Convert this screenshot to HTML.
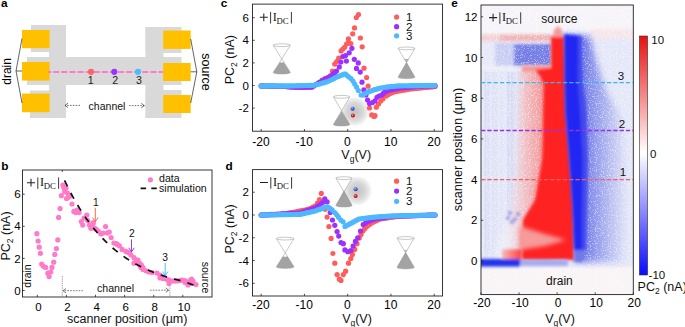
<!DOCTYPE html>
<html><head><meta charset="utf-8"><style>
html,body{margin:0;padding:0;background:#fff;width:685px;height:327px;overflow:hidden;}
svg{display:block;}
</style></head><body>
<svg width="685" height="327" viewBox="0 0 685 327">
<defs>
<radialGradient id="blobg" cx="0.5" cy="0.5" r="0.5"><stop offset="0" stop-color="#c2c2c2"/><stop offset="0.5" stop-color="#d6d6d6"/><stop offset="0.8" stop-color="#eeeeee"/><stop offset="1" stop-color="#ffffff" stop-opacity="0"/></radialGradient>
<radialGradient id="bsph" cx="0.4" cy="0.35" r="0.6"><stop offset="0" stop-color="#a8b8ff"/><stop offset="0.5" stop-color="#4a6ae0"/><stop offset="1" stop-color="#2a3aa0"/></radialGradient>
<radialGradient id="rsph" cx="0.4" cy="0.35" r="0.6"><stop offset="0" stop-color="#ffb0b0"/><stop offset="0.5" stop-color="#e82020"/><stop offset="1" stop-color="#a01010"/></radialGradient>
<linearGradient id="cbar" x1="0" y1="0" x2="0" y2="1"><stop offset="0" stop-color="#e81010"/><stop offset="0.49" stop-color="#ffffff"/><stop offset="1" stop-color="#0a0aff"/></linearGradient>
<linearGradient id="rightfade" x1="0" y1="0" x2="1" y2="0"><stop offset="0" stop-color="#b8bef4"/><stop offset="1" stop-color="#eceefa"/></linearGradient>
<linearGradient id="bfade" gradientUnits="userSpaceOnUse" x1="580" y1="0" x2="628" y2="0"><stop offset="0" stop-color="#6a74ea"/><stop offset="0.45" stop-color="#a3aaef"/><stop offset="1" stop-color="#e5e8f8"/></linearGradient>
<linearGradient id="rfade" gradientUnits="userSpaceOnUse" x1="506" y1="0" x2="542" y2="0"><stop offset="0" stop-color="#eceef9"/><stop offset="1" stop-color="#f49a9a"/></linearGradient>
<linearGradient id="finger" gradientUnits="userSpaceOnUse" x1="500" y1="0" x2="524" y2="0"><stop offset="0" stop-color="#f4c8c8"/><stop offset="1" stop-color="#ff3030"/></linearGradient>
<filter id="blur3" x="-20%" y="-20%" width="140%" height="140%"><feGaussianBlur stdDeviation="3"/></filter>
<filter id="blurs" x="-200%" y="-5%" width="500%" height="110%"><feGaussianBlur stdDeviation="0.7"/></filter>
<filter id="speck" x="0" y="0" width="100%" height="100%" filterUnits="objectBoundingBox"><feTurbulence type="fractalNoise" baseFrequency="0.85" numOctaves="1" seed="4" result="n"/><feColorMatrix in="n" type="matrix" values="0 0 0 0 1  0 0 0 0 1  0 0 0 0 1  9 0 0 0 -5.0"/></filter>
<filter id="blur2" x="-20%" y="-50%" width="140%" height="200%"><feGaussianBlur stdDeviation="2.2"/></filter>
<filter id="blur1" x="-10%" y="-10%" width="120%" height="120%"><feGaussianBlur stdDeviation="1.6"/></filter>
<pattern id="noise" width="6" height="6" patternUnits="userSpaceOnUse"><rect x="0" y="0" width="1.5" height="1.5" fill="#fff"/><rect x="3" y="3" width="1.5" height="1.5" fill="#fff"/><rect x="4.5" y="1.5" width="1.5" height="1.5" fill="#dde"/></pattern>
</defs>
<text x="1.0" y="6.8" font-size="11.8" text-anchor="start" font-weight="bold" fill="#000" font-family='"Liberation Sans", sans-serif' >a</text>
<text x="1.2" y="170" font-size="11.8" text-anchor="start" font-weight="bold" fill="#000" font-family='"Liberation Sans", sans-serif' >b</text>
<text x="220.8" y="6.6" font-size="11.8" text-anchor="start" font-weight="bold" fill="#000" font-family='"Liberation Sans", sans-serif' >c</text>
<text x="225.6" y="169.8" font-size="11.8" text-anchor="start" font-weight="bold" fill="#000" font-family='"Liberation Sans", sans-serif' >d</text>
<text x="451.2" y="7.3" font-size="11.8" text-anchor="start" font-weight="bold" fill="#000" font-family='"Liberation Sans", sans-serif' >e</text>
<rect x="31" y="25" width="35" height="27" fill="#d9d9d9" />
<rect x="27" y="57" width="39" height="28" fill="#d9d9d9" />
<rect x="30" y="90.5" width="36" height="27.5" fill="#d9d9d9" />
<rect x="49" y="25" width="17" height="93" fill="#d9d9d9" />
<rect x="66" y="57" width="80" height="28" fill="#d9d9d9" />
<rect x="145.5" y="27" width="18" height="91" fill="#d9d9d9" />
<rect x="145.5" y="27" width="36" height="26" fill="#d9d9d9" />
<rect x="145.5" y="57" width="36" height="28" fill="#d9d9d9" />
<rect x="145.5" y="90" width="36" height="28" fill="#d9d9d9" />
<rect x="22" y="30" width="27.6" height="18.2" fill="#ffc000" />
<rect x="22" y="62" width="27.6" height="18.6" fill="#ffc000" />
<rect x="22" y="93.6" width="27.6" height="18.6" fill="#ffc000" />
<rect x="163.2" y="30.5" width="27.5" height="18.4" fill="#ffc000" />
<rect x="163.2" y="63" width="27.5" height="18" fill="#ffc000" />
<rect x="163.2" y="95" width="27.5" height="18" fill="#ffc000" />
<line x1="48" y1="71.9" x2="163.2" y2="71.9" stroke="#ff7ac8" stroke-width="2" stroke-dasharray="6.1 2.0" stroke-dashoffset="2.9"/>
<circle cx="91" cy="71.8" r="3.1" fill="#ff6464"/>
<circle cx="114.3" cy="71.8" r="3.1" fill="#9933ff"/>
<circle cx="138" cy="71.8" r="3.1" fill="#4dbbff"/>
<text x="90.6" y="84.1" font-size="10.6" text-anchor="middle" font-weight="normal" fill="#222" font-family='"Liberation Sans", sans-serif' >1</text>
<text x="115.1" y="84.1" font-size="10.6" text-anchor="middle" font-weight="normal" fill="#222" font-family='"Liberation Sans", sans-serif' >2</text>
<text x="139" y="84.1" font-size="10.6" text-anchor="middle" font-weight="normal" fill="#222" font-family='"Liberation Sans", sans-serif' >3</text>
<polyline points="22,38.5 16,71 22,103" fill="none" stroke="#222" stroke-width="0.7"/>
<line x1="16" y1="71" x2="22" y2="71" stroke="#222" stroke-width="0.7"/>
<polyline points="190.7,39 196.8,71.8 190.7,103" fill="none" stroke="#222" stroke-width="0.7"/>
<line x1="190.7" y1="71.8" x2="196.8" y2="71.8" stroke="#222" stroke-width="0.7"/>
<text x="11.5" y="71.4" font-size="12" text-anchor="middle" font-weight="normal" fill="#000" font-family='"Liberation Sans", sans-serif' transform="rotate(-90 11.5 71.4)">drain</text>
<text x="201.5" y="72" font-size="12.5" text-anchor="middle" font-weight="normal" fill="#000" font-family='"Liberation Sans", sans-serif' transform="rotate(90 201.5 72)">source</text>
<text x="107" y="109.5" font-size="10.5" text-anchor="middle" font-weight="normal" fill="#111" font-family='"Liberation Sans", sans-serif' >channel</text>
<line x1="80" y1="105.4" x2="65" y2="105.4" stroke="#333" stroke-width="0.7" stroke-dasharray="1.6 1.2"/>
<polyline points="68,103.2 65,105.4 68,107.60000000000001" fill="none" stroke="#333" stroke-width="0.7"/>
<line x1="129" y1="105.6" x2="144.3" y2="105.6" stroke="#333" stroke-width="0.7" stroke-dasharray="1.6 1.2"/>
<polyline points="141.3,103.39999999999999 144.3,105.6 141.3,107.8" fill="none" stroke="#333" stroke-width="0.7"/>
<rect x="22.5" y="170" width="189.5" height="127" fill="none" stroke="#222" stroke-width="0.9"/>
<line x1="37.3" y1="297" x2="37.3" y2="294.8" stroke="#222" stroke-width="0.8"/>
<text x="38.4" y="310.5" font-size="11.5" text-anchor="middle" font-weight="normal" fill="#000" font-family='"Liberation Sans", sans-serif' >0</text>
<line x1="66.4" y1="297" x2="66.4" y2="294.8" stroke="#222" stroke-width="0.8"/>
<text x="67.5" y="310.5" font-size="11.5" text-anchor="middle" font-weight="normal" fill="#000" font-family='"Liberation Sans", sans-serif' >2</text>
<line x1="95.5" y1="297" x2="95.5" y2="294.8" stroke="#222" stroke-width="0.8"/>
<text x="96.6" y="310.5" font-size="11.5" text-anchor="middle" font-weight="normal" fill="#000" font-family='"Liberation Sans", sans-serif' >4</text>
<line x1="124.60000000000001" y1="297" x2="124.60000000000001" y2="294.8" stroke="#222" stroke-width="0.8"/>
<text x="125.7" y="310.5" font-size="11.5" text-anchor="middle" font-weight="normal" fill="#000" font-family='"Liberation Sans", sans-serif' >6</text>
<line x1="153.7" y1="297" x2="153.7" y2="294.8" stroke="#222" stroke-width="0.8"/>
<text x="154.79999999999998" y="310.5" font-size="11.5" text-anchor="middle" font-weight="normal" fill="#000" font-family='"Liberation Sans", sans-serif' >8</text>
<line x1="182.8" y1="297" x2="182.8" y2="294.8" stroke="#222" stroke-width="0.8"/>
<text x="183.9" y="310.5" font-size="11.5" text-anchor="middle" font-weight="normal" fill="#000" font-family='"Liberation Sans", sans-serif' >10</text>
<line x1="22.5" y1="290.5" x2="24.7" y2="290.5" stroke="#222" stroke-width="0.8"/>
<text x="20.6" y="294.6" font-size="11.5" text-anchor="end" font-weight="normal" fill="#000" font-family='"Liberation Sans", sans-serif' >0</text>
<line x1="22.5" y1="258.4" x2="24.7" y2="258.4" stroke="#222" stroke-width="0.8"/>
<text x="20.6" y="262.5" font-size="11.5" text-anchor="end" font-weight="normal" fill="#000" font-family='"Liberation Sans", sans-serif' >2</text>
<line x1="22.5" y1="226.3" x2="24.7" y2="226.3" stroke="#222" stroke-width="0.8"/>
<text x="20.6" y="230.4" font-size="11.5" text-anchor="end" font-weight="normal" fill="#000" font-family='"Liberation Sans", sans-serif' >4</text>
<line x1="22.5" y1="194.2" x2="24.7" y2="194.2" stroke="#222" stroke-width="0.8"/>
<text x="20.6" y="198.29999999999998" font-size="11.5" text-anchor="end" font-weight="normal" fill="#000" font-family='"Liberation Sans", sans-serif' >6</text>
<line x1="62.3" y1="170" x2="62.3" y2="172" stroke="#222" stroke-width="0.8"/>
<text transform="translate(9.8 236) rotate(-90)" text-anchor="middle" font-size="12.5" font-family='"Liberation Sans", sans-serif' fill="#111">PC<tspan font-size="8.50" dy="3">2</tspan><tspan dy="-3"> (nA)</tspan></text>
<text x="127.2" y="322.5" font-size="12.5" text-anchor="middle" font-weight="normal" fill="#111" font-family='"Liberation Sans", sans-serif' >scanner position (µm)</text>
<path d="M27.00,182.70 H35.00 M31.00,178.80 V186.60" stroke="#222" stroke-width="1.05"/>
<path d="M37.80,177.40 V188.90 M58.60,177.40 V188.90" stroke="#222" stroke-width="0.9"/>
<text x="40.00" y="186.30" font-size="12.2" font-family='"Liberation Serif", serif' fill="#111" >I</text>
<text x="43.70" y="189.00" font-size="8.7" font-family='"Liberation Serif", serif' fill="#111" >DC</text>
<line x1="62.3" y1="276" x2="62.3" y2="297" stroke="#555" stroke-width="0.6" stroke-dasharray="1.3 1"/>
<line x1="169.9" y1="283" x2="169.9" y2="297" stroke="#555" stroke-width="0.6" stroke-dasharray="1.3 1"/>
<line x1="83" y1="290.7" x2="63" y2="290.7" stroke="#444" stroke-width="0.7" stroke-dasharray="1.6 1.2"/>
<polyline points="66,288.5 63,290.7 66,292.9" fill="none" stroke="#444" stroke-width="0.7"/>
<line x1="150" y1="290.2" x2="168.7" y2="290.2" stroke="#444" stroke-width="0.7" stroke-dasharray="1.6 1.2"/>
<polyline points="165.7,288.0 168.7,290.2 165.7,292.4" fill="none" stroke="#444" stroke-width="0.7"/>
<text x="115.5" y="292.2" font-size="10.6" text-anchor="middle" font-weight="normal" fill="#111" font-family='"Liberation Sans", sans-serif' >channel</text>
<text x="30.6" y="276" font-size="10.5" text-anchor="middle" font-weight="normal" fill="#111" font-family='"Liberation Sans", sans-serif' transform="rotate(-90 30.6 276)">drain</text>
<text x="202" y="277.5" font-size="10.5" text-anchor="middle" font-weight="normal" fill="#111" font-family='"Liberation Sans", sans-serif' transform="rotate(90 202 277.5)">source</text>
<circle cx="36.9" cy="233.7" r="2.6" fill="#ff7ac8"/>
<circle cx="38.1" cy="241" r="2.6" fill="#ff7ac8"/>
<circle cx="39.2" cy="247.2" r="2.6" fill="#ff7ac8"/>
<circle cx="40.4" cy="253.4" r="2.6" fill="#ff7ac8"/>
<circle cx="41.7" cy="264" r="2.6" fill="#ff7ac8"/>
<circle cx="43.3" cy="266.3" r="2.6" fill="#ff7ac8"/>
<circle cx="45.6" cy="267.4" r="2.6" fill="#ff7ac8"/>
<circle cx="47.9" cy="273.2" r="2.6" fill="#ff7ac8"/>
<circle cx="49.1" cy="276.6" r="2.6" fill="#ff7ac8"/>
<circle cx="50.7" cy="272" r="2.6" fill="#ff7ac8"/>
<circle cx="52" cy="267.4" r="2.6" fill="#ff7ac8"/>
<circle cx="53.7" cy="262.2" r="2.6" fill="#ff7ac8"/>
<circle cx="54.8" cy="254.4" r="2.6" fill="#ff7ac8"/>
<circle cx="56.4" cy="248.6" r="2.6" fill="#ff7ac8"/>
<circle cx="57.8" cy="239.9" r="2.6" fill="#ff7ac8"/>
<circle cx="58.6" cy="217.4" r="2.6" fill="#ff7ac8"/>
<circle cx="60.1" cy="208.6" r="2.6" fill="#ff7ac8"/>
<circle cx="61.4" cy="195.7" r="2.6" fill="#ff7ac8"/>
<circle cx="62.9" cy="185.1" r="2.6" fill="#ff7ac8"/>
<circle cx="63.8" cy="187.5" r="2.6" fill="#ff7ac8"/>
<circle cx="64.7" cy="191.7" r="2.6" fill="#ff7ac8"/>
<circle cx="67.5" cy="193" r="2.6" fill="#ff7ac8"/>
<circle cx="66.5" cy="198.5" r="2.6" fill="#ff7ac8"/>
<circle cx="68.4" cy="197.2" r="2.6" fill="#ff7ac8"/>
<circle cx="72" cy="204" r="2.6" fill="#ff7ac8"/>
<circle cx="73.9" cy="211.4" r="2.6" fill="#ff7ac8"/>
<circle cx="75.7" cy="212.6" r="2.6" fill="#ff7ac8"/>
<circle cx="79" cy="212.6" r="2.6" fill="#ff7ac8"/>
<circle cx="81.3" cy="221.5" r="2.6" fill="#ff7ac8"/>
<circle cx="82.7" cy="225.1" r="2.6" fill="#ff7ac8"/>
<circle cx="86.8" cy="215" r="2.6" fill="#ff7ac8"/>
<circle cx="87.7" cy="220.5" r="2.6" fill="#ff7ac8"/>
<circle cx="89.5" cy="225.1" r="2.6" fill="#ff7ac8"/>
<circle cx="93.2" cy="223.3" r="2.6" fill="#ff7ac8"/>
<circle cx="94.1" cy="227.9" r="2.6" fill="#ff7ac8"/>
<circle cx="92.8" cy="222.8" r="2.6" fill="#ff7ac8"/>
<circle cx="90.9" cy="228.3" r="2.6" fill="#ff7ac8"/>
<circle cx="98.3" cy="231.1" r="2.6" fill="#ff7ac8"/>
<circle cx="101" cy="233.9" r="2.6" fill="#ff7ac8"/>
<circle cx="105.6" cy="226.5" r="2.6" fill="#ff7ac8"/>
<circle cx="107.4" cy="232.9" r="2.6" fill="#ff7ac8"/>
<circle cx="109.3" cy="232" r="2.6" fill="#ff7ac8"/>
<circle cx="111.1" cy="237.5" r="2.6" fill="#ff7ac8"/>
<circle cx="113.9" cy="243" r="2.6" fill="#ff7ac8"/>
<circle cx="116.6" cy="243.9" r="2.6" fill="#ff7ac8"/>
<circle cx="119.4" cy="245.8" r="2.6" fill="#ff7ac8"/>
<circle cx="122.1" cy="249.4" r="2.6" fill="#ff7ac8"/>
<circle cx="125.8" cy="251.3" r="2.6" fill="#ff7ac8"/>
<circle cx="129.4" cy="253.1" r="2.6" fill="#ff7ac8"/>
<circle cx="134" cy="257.7" r="2.6" fill="#ff7ac8"/>
<circle cx="134" cy="263.2" r="2.6" fill="#ff7ac8"/>
<circle cx="137.7" cy="262.3" r="2.6" fill="#ff7ac8"/>
<circle cx="141.4" cy="265" r="2.6" fill="#ff7ac8"/>
<circle cx="136" cy="260.0" r="2.6" fill="#ff7ac8"/>
<circle cx="140" cy="263.6" r="2.6" fill="#ff7ac8"/>
<circle cx="140" cy="265.4" r="2.6" fill="#ff7ac8"/>
<circle cx="141" cy="266.2" r="2.6" fill="#ff7ac8"/>
<circle cx="141" cy="267.4" r="2.6" fill="#ff7ac8"/>
<circle cx="143" cy="267.6" r="2.6" fill="#ff7ac8"/>
<circle cx="143" cy="269.4" r="2.6" fill="#ff7ac8"/>
<circle cx="146" cy="270.8" r="2.6" fill="#ff7ac8"/>
<circle cx="149" cy="272.0" r="2.6" fill="#ff7ac8"/>
<circle cx="152" cy="272.5" r="2.6" fill="#ff7ac8"/>
<circle cx="157" cy="273.0" r="2.6" fill="#ff7ac8"/>
<circle cx="160" cy="275.1" r="2.6" fill="#ff7ac8"/>
<circle cx="160" cy="277.9" r="2.6" fill="#ff7ac8"/>
<circle cx="163" cy="277.1" r="2.6" fill="#ff7ac8"/>
<circle cx="163" cy="278.4" r="2.6" fill="#ff7ac8"/>
<circle cx="165" cy="278.2" r="2.6" fill="#ff7ac8"/>
<circle cx="167" cy="279.5" r="2.6" fill="#ff7ac8"/>
<circle cx="169" cy="280.1" r="2.6" fill="#ff7ac8"/>
<circle cx="169" cy="283.4" r="2.6" fill="#ff7ac8"/>
<circle cx="172" cy="281.0" r="2.6" fill="#ff7ac8"/>
<circle cx="174.5" cy="281.0" r="2.6" fill="#ff7ac8"/>
<circle cx="177" cy="281.0" r="2.6" fill="#ff7ac8"/>
<circle cx="180" cy="280.5" r="2.6" fill="#ff7ac8"/>
<circle cx="182" cy="280.2" r="2.6" fill="#ff7ac8"/>
<circle cx="185" cy="280.6" r="2.6" fill="#ff7ac8"/>
<circle cx="185" cy="282.4" r="2.6" fill="#ff7ac8"/>
<circle cx="188" cy="282.6" r="2.6" fill="#ff7ac8"/>
<circle cx="188" cy="284.9" r="2.6" fill="#ff7ac8"/>
<circle cx="190" cy="280.6" r="2.6" fill="#ff7ac8"/>
<circle cx="190" cy="283.4" r="2.6" fill="#ff7ac8"/>
<circle cx="191.5" cy="279.1" r="2.6" fill="#ff7ac8"/>
<circle cx="191.5" cy="282.4" r="2.6" fill="#ff7ac8"/>
<circle cx="193" cy="281.0" r="2.6" fill="#ff7ac8"/>
<circle cx="196" cy="284.5" r="2.6" fill="#ff7ac8"/>
<circle cx="66" cy="188" r="2.6" fill="#ff7ac8"/>
<circle cx="70" cy="196" r="2.6" fill="#ff7ac8"/>
<circle cx="77" cy="210" r="2.6" fill="#ff7ac8"/>
<circle cx="84" cy="218" r="2.6" fill="#ff7ac8"/>
<circle cx="96" cy="229" r="2.6" fill="#ff7ac8"/>
<circle cx="103" cy="233" r="2.6" fill="#ff7ac8"/>
<circle cx="117" cy="244" r="2.6" fill="#ff7ac8"/>
<circle cx="127" cy="252" r="2.6" fill="#ff7ac8"/>
<circle cx="131" cy="255" r="2.6" fill="#ff7ac8"/>
<circle cx="138" cy="260" r="2.6" fill="#ff7ac8"/>
<polyline points="64.60,180.45 65.60,182.57 66.60,184.65 67.60,186.70 68.60,188.70 69.60,190.67 70.60,192.60 71.60,194.50 72.60,196.35 73.60,198.18 74.60,199.97 75.60,201.72 76.60,203.44 77.60,205.13 78.60,206.79 79.60,208.42 80.60,210.01 81.60,211.58 82.60,213.12 83.60,214.62 84.60,216.10 85.60,217.55 86.60,218.98 87.60,220.37 88.60,221.74 89.60,223.09 90.60,224.41 91.60,225.70 92.60,226.97 93.60,228.22 94.60,229.44 95.60,230.64 96.60,231.81 97.60,232.97 98.60,234.10 99.60,235.21 100.60,236.30 101.60,237.37 102.60,238.42 103.60,239.45 104.60,240.46 105.60,241.45 106.60,242.43 107.60,243.38 108.60,244.32 109.60,245.24 110.60,246.14 111.60,247.02 112.60,247.89 113.60,248.74 114.60,249.57 115.60,250.39 116.60,251.20 117.60,251.99 118.60,252.76 119.60,253.52 120.60,254.26 121.60,254.99 122.60,255.71 123.60,256.42 124.60,257.11 125.60,257.78 126.60,258.45 127.60,259.10 128.60,259.74 129.60,260.37 130.60,260.98 131.60,261.59 132.60,262.18 133.60,262.76 134.60,263.33 135.60,263.89 136.60,264.44 137.60,264.98 138.60,265.51 139.60,266.03 140.60,266.54 141.60,267.03 142.60,267.52 143.60,268.01 144.60,268.48 145.60,268.94 146.60,269.39 147.60,269.84 148.60,270.28 149.60,270.70 150.60,271.13 151.60,271.54 152.60,271.94 153.60,272.34 154.60,272.73 155.60,273.11 156.60,273.49 157.60,273.86 158.60,274.22 159.60,274.57 160.60,274.92 161.60,275.26 162.60,275.59 163.60,275.92 164.60,276.25 165.60,276.56 166.60,276.87 167.60,277.18 168.60,277.47 169.60,277.77 170.60,278.05 171.60,278.34 172.60,278.61 173.60,278.88 174.60,279.15 175.60,279.41 176.60,279.67 177.60,279.92 178.60,280.17 179.60,280.41 180.60,280.65 181.60,280.88 182.60,281.11 183.60,281.33 184.60,281.66 185.60,282.06 186.60,282.45 187.60,282.84 188.60,283.22 189.60,283.60 190.60,283.98 191.60,284.35 192.60,284.72 193.60,285.08 194.60,285.45 195.60,285.80 196.60,286.16 197.60,286.51" fill="none" stroke="#111" stroke-width="1.7" stroke-dasharray="6.6 7.3"/>
<line x1="95.3" y1="207.8" x2="95.3" y2="221.6" stroke="#ff5a3c" stroke-width="0.9"/>
<polyline points="92.5,217.6 95.3,221.6 98.1,217.6" fill="none" stroke="#ff5a3c" stroke-width="0.9"/>
<text x="95.8" y="206.2" font-size="10.3" text-anchor="middle" font-weight="normal" fill="#111" font-family='"Liberation Sans", sans-serif' >1</text>
<line x1="131.5" y1="239.4" x2="131.5" y2="251.8" stroke="#8a2be2" stroke-width="0.9"/>
<polyline points="128.7,247.8 131.5,251.8 134.3,247.8" fill="none" stroke="#8a2be2" stroke-width="0.9"/>
<text x="131.8" y="237.4" font-size="10.3" text-anchor="middle" font-weight="normal" fill="#111" font-family='"Liberation Sans", sans-serif' >2</text>
<line x1="165.2" y1="263" x2="165.2" y2="275.5" stroke="#33b5ff" stroke-width="0.9"/>
<polyline points="162.39999999999998,271.5 165.2,275.5 168.0,271.5" fill="none" stroke="#33b5ff" stroke-width="0.9"/>
<text x="165.2" y="260.6" font-size="10.3" text-anchor="middle" font-weight="normal" fill="#111" font-family='"Liberation Sans", sans-serif' >3</text>
<circle cx="150.4" cy="179.8" r="2.6" fill="#ff7ac8"/>
<text x="159" y="182.2" font-size="10.6" text-anchor="start" font-weight="normal" fill="#111" font-family='"Liberation Sans", sans-serif' >data</text>
<line x1="140.6" y1="188.3" x2="157.4" y2="188.3" stroke="#111" stroke-width="1.7" stroke-dasharray="5.5 5.2"/>
<text x="159" y="191.5" font-size="10.6" text-anchor="start" font-weight="normal" fill="#111" font-family='"Liberation Sans", sans-serif' >simulation</text>
<rect x="252.5" y="4.1" width="190.0" height="127.1" fill="none" stroke="#222" stroke-width="0.9"/>
<line x1="261.2" y1="131.2" x2="261.2" y2="129.0" stroke="#222" stroke-width="0.8"/>
<text x="260.9" y="145.8" font-size="12" text-anchor="middle" font-weight="normal" fill="#000" font-family='"Liberation Sans", sans-serif' >-20</text>
<line x1="304.45" y1="131.2" x2="304.45" y2="129.0" stroke="#222" stroke-width="0.8"/>
<text x="304.15" y="145.8" font-size="12" text-anchor="middle" font-weight="normal" fill="#000" font-family='"Liberation Sans", sans-serif' >-10</text>
<line x1="347.7" y1="131.2" x2="347.7" y2="129.0" stroke="#222" stroke-width="0.8"/>
<text x="347.4" y="145.8" font-size="12" text-anchor="middle" font-weight="normal" fill="#000" font-family='"Liberation Sans", sans-serif' >0</text>
<line x1="390.95" y1="131.2" x2="390.95" y2="129.0" stroke="#222" stroke-width="0.8"/>
<text x="390.65" y="145.8" font-size="12" text-anchor="middle" font-weight="normal" fill="#000" font-family='"Liberation Sans", sans-serif' >10</text>
<line x1="434.2" y1="131.2" x2="434.2" y2="129.0" stroke="#222" stroke-width="0.8"/>
<text x="433.9" y="145.8" font-size="12" text-anchor="middle" font-weight="normal" fill="#000" font-family='"Liberation Sans", sans-serif' >20</text>
<line x1="252.5" y1="108.1" x2="254.7" y2="108.1" stroke="#222" stroke-width="0.8"/>
<text x="248.8" y="112.19999999999999" font-size="11.5" text-anchor="end" font-weight="normal" fill="#000" font-family='"Liberation Sans", sans-serif' >-2</text>
<line x1="252.5" y1="85.5" x2="254.7" y2="85.5" stroke="#222" stroke-width="0.8"/>
<text x="248.8" y="89.6" font-size="11.5" text-anchor="end" font-weight="normal" fill="#000" font-family='"Liberation Sans", sans-serif' >0</text>
<line x1="252.5" y1="62.9" x2="254.7" y2="62.9" stroke="#222" stroke-width="0.8"/>
<text x="248.8" y="67.0" font-size="11.5" text-anchor="end" font-weight="normal" fill="#000" font-family='"Liberation Sans", sans-serif' >2</text>
<line x1="252.5" y1="40.3" x2="254.7" y2="40.3" stroke="#222" stroke-width="0.8"/>
<text x="248.8" y="44.4" font-size="11.5" text-anchor="end" font-weight="normal" fill="#000" font-family='"Liberation Sans", sans-serif' >4</text>
<line x1="252.5" y1="17.69999999999999" x2="254.7" y2="17.69999999999999" stroke="#222" stroke-width="0.8"/>
<text x="248.8" y="21.79999999999999" font-size="11.5" text-anchor="end" font-weight="normal" fill="#000" font-family='"Liberation Sans", sans-serif' >6</text>
<text transform="translate(234.2 59.7) rotate(-90)" text-anchor="middle" font-size="12.5" font-family='"Liberation Sans", sans-serif' fill="#111">PC<tspan font-size="8.50" dy="3">2</tspan><tspan dy="-3"> (nA)</tspan></text>
<text x="356.2" y="158.8" text-anchor="middle" font-size="12.5" font-family='"Liberation Sans", sans-serif' fill="#111">V<tspan font-size="8.5" dy="3.2">g</tspan><tspan dy="-3.2">(V)</tspan></text>
<path d="M259.80,17.30 H267.80 M263.80,13.40 V21.20" stroke="#222" stroke-width="1.05"/>
<path d="M270.60,12.00 V23.50 M291.40,12.00 V23.50" stroke="#222" stroke-width="0.9"/>
<text x="272.80" y="20.90" font-size="12.2" font-family='"Liberation Serif", serif' fill="#111" >I</text>
<text x="276.50" y="23.60" font-size="8.7" font-family='"Liberation Serif", serif' fill="#111" >DC</text>
<circle cx="396.6" cy="17.1" r="2.6" fill="#ff5c5c"/>
<text x="409.1" y="21.1" font-size="11.5" text-anchor="middle" font-weight="normal" fill="#111" font-family='"Liberation Sans", sans-serif' >1</text>
<circle cx="396.6" cy="26.7" r="2.6" fill="#9b30ff"/>
<text x="409.1" y="30.7" font-size="11.5" text-anchor="middle" font-weight="normal" fill="#111" font-family='"Liberation Sans", sans-serif' >2</text>
<circle cx="396.6" cy="35.8" r="2.6" fill="#4db8ff"/>
<text x="409.1" y="39.8" font-size="11.5" text-anchor="middle" font-weight="normal" fill="#111" font-family='"Liberation Sans", sans-serif' >3</text>
<path d="M280.12,62.30 Q281.8,63.50 283.48,62.30 L290.40000000000003,72.6 A8.6,1.5 0 0 1 273.2,72.6 Z" fill="#a3a3a3" stroke="#a0a0a0" stroke-width="0.4"/>
<path d="M273.2,45.2 L290.40000000000003,72.6 M290.40000000000003,45.2 L273.2,72.6" stroke="#9a9a9a" stroke-width="0.55" fill="none"/>
<ellipse cx="281.8" cy="45.2" rx="8.6" ry="1.4" fill="none" stroke="#9a9a9a" stroke-width="0.55"/>
<path d="M406.50,62.50 Q406.5,63.70 406.50,62.50 L414.9,77.2 A8.4,1.5 0 0 1 398.1,77.2 Z" fill="#a3a3a3" stroke="#a0a0a0" stroke-width="0.4"/>
<path d="M406.5,62.5 L408.88,58.50 Q406.5,59.70 404.12,58.50 Z" fill="#b0b0b0"/>
<path d="M398.1,48.4 L414.9,77.2 M414.9,48.4 L398.1,77.2" stroke="#9a9a9a" stroke-width="0.55" fill="none"/>
<ellipse cx="406.5" cy="48.4" rx="8.4" ry="1.4" fill="none" stroke="#9a9a9a" stroke-width="0.55"/>
<circle cx="354.5" cy="111.5" r="16" fill="url(#blobg)"/>
<path d="M333.40000000000003,96.8 L349.8,96.8 L341.6,111.8 Z" fill="#fff"/>
<path d="M341.60,111.80 Q341.6,113.00 341.60,111.80 L349.8,124.6 A8.2,1.5 0 0 1 333.40000000000003,124.6 Z" fill="#a3a3a3" stroke="#a0a0a0" stroke-width="0.4"/>
<path d="M333.40000000000003,96.8 L349.8,124.6 M349.8,96.8 L333.40000000000003,124.6" stroke="#9a9a9a" stroke-width="0.55" fill="none"/>
<ellipse cx="341.6" cy="96.8" rx="8.2" ry="1.4" fill="none" stroke="#9a9a9a" stroke-width="0.55"/>
<circle cx="352.6" cy="108.7" r="2.0" fill="url(#bsph)"/>
<circle cx="352.9" cy="115.6" r="2.0" fill="url(#rsph)"/>
<circle cx="261.20" cy="85.90" r="2.6" fill="#ff5c5c"/>
<circle cx="263.18" cy="85.94" r="2.6" fill="#ff5c5c"/>
<circle cx="265.17" cy="85.98" r="2.6" fill="#ff5c5c"/>
<circle cx="267.15" cy="86.03" r="2.6" fill="#ff5c5c"/>
<circle cx="269.13" cy="86.07" r="2.6" fill="#ff5c5c"/>
<circle cx="271.12" cy="86.11" r="2.6" fill="#ff5c5c"/>
<circle cx="273.10" cy="86.15" r="2.6" fill="#ff5c5c"/>
<circle cx="275.08" cy="86.19" r="2.6" fill="#ff5c5c"/>
<circle cx="277.07" cy="86.23" r="2.6" fill="#ff5c5c"/>
<circle cx="279.05" cy="86.28" r="2.6" fill="#ff5c5c"/>
<circle cx="281.03" cy="86.32" r="2.6" fill="#ff5c5c"/>
<circle cx="283.02" cy="86.36" r="2.6" fill="#ff5c5c"/>
<circle cx="285.00" cy="86.40" r="2.6" fill="#ff5c5c"/>
<circle cx="286.75" cy="86.55" r="2.6" fill="#ff5c5c"/>
<circle cx="288.50" cy="86.70" r="2.6" fill="#ff5c5c"/>
<circle cx="290.25" cy="86.85" r="2.6" fill="#ff5c5c"/>
<circle cx="292.00" cy="87.00" r="2.6" fill="#ff5c5c"/>
<circle cx="294.00" cy="87.08" r="2.6" fill="#ff5c5c"/>
<circle cx="296.00" cy="87.15" r="2.6" fill="#ff5c5c"/>
<circle cx="298.00" cy="87.22" r="2.6" fill="#ff5c5c"/>
<circle cx="300.00" cy="87.30" r="2.6" fill="#ff5c5c"/>
<circle cx="302.00" cy="87.25" r="2.6" fill="#ff5c5c"/>
<circle cx="304.00" cy="87.20" r="2.6" fill="#ff5c5c"/>
<circle cx="306.00" cy="87.15" r="2.6" fill="#ff5c5c"/>
<circle cx="308.00" cy="87.10" r="2.6" fill="#ff5c5c"/>
<circle cx="310.00" cy="87.05" r="2.6" fill="#ff5c5c"/>
<circle cx="312.00" cy="87.00" r="2.6" fill="#ff5c5c"/>
<circle cx="314.00" cy="85.75" r="2.6" fill="#ff5c5c"/>
<circle cx="316.00" cy="84.50" r="2.6" fill="#ff5c5c"/>
<circle cx="319.00" cy="82.50" r="2.6" fill="#ff5c5c"/>
<circle cx="322.00" cy="80.20" r="2.6" fill="#ff5c5c"/>
<circle cx="325.00" cy="78.60" r="2.6" fill="#ff5c5c"/>
<circle cx="328.00" cy="77.60" r="2.6" fill="#ff5c5c"/>
<circle cx="330.60" cy="75.50" r="2.6" fill="#ff5c5c"/>
<circle cx="332.50" cy="71.00" r="2.6" fill="#ff5c5c"/>
<circle cx="334.70" cy="64.10" r="2.6" fill="#ff5c5c"/>
<circle cx="336.70" cy="61.50" r="2.6" fill="#ff5c5c"/>
<circle cx="338.70" cy="58.20" r="2.6" fill="#ff5c5c"/>
<circle cx="341.10" cy="50.90" r="2.6" fill="#ff5c5c"/>
<circle cx="342.85" cy="49.10" r="2.6" fill="#ff5c5c"/>
<circle cx="344.60" cy="47.30" r="2.6" fill="#ff5c5c"/>
<circle cx="346.60" cy="44.10" r="2.6" fill="#ff5c5c"/>
<circle cx="348.30" cy="42.80" r="2.6" fill="#ff5c5c"/>
<circle cx="348.40" cy="38.90" r="2.6" fill="#ff5c5c"/>
<circle cx="350.80" cy="43.50" r="2.6" fill="#ff5c5c"/>
<circle cx="352.70" cy="33.80" r="2.6" fill="#ff5c5c"/>
<circle cx="354.50" cy="27.90" r="2.6" fill="#ff5c5c"/>
<circle cx="356.30" cy="17.50" r="2.6" fill="#ff5c5c"/>
<circle cx="358.50" cy="14.50" r="2.6" fill="#ff5c5c"/>
<circle cx="360.40" cy="38.00" r="2.6" fill="#ff5c5c"/>
<circle cx="362.20" cy="46.80" r="2.6" fill="#ff5c5c"/>
<circle cx="364.00" cy="68.20" r="2.6" fill="#ff5c5c"/>
<circle cx="366.60" cy="77.60" r="2.6" fill="#ff5c5c"/>
<circle cx="368.10" cy="86.20" r="2.6" fill="#ff5c5c"/>
<circle cx="369.50" cy="108.00" r="2.6" fill="#ff5c5c"/>
<circle cx="371.70" cy="114.90" r="2.6" fill="#ff5c5c"/>
<circle cx="374.00" cy="116.40" r="2.6" fill="#ff5c5c"/>
<circle cx="375.00" cy="115.70" r="2.6" fill="#ff5c5c"/>
<circle cx="376.30" cy="107.20" r="2.6" fill="#ff5c5c"/>
<circle cx="378.50" cy="104.00" r="2.6" fill="#ff5c5c"/>
<circle cx="380.70" cy="101.00" r="2.6" fill="#ff5c5c"/>
<circle cx="383.00" cy="98.80" r="2.6" fill="#ff5c5c"/>
<circle cx="386.00" cy="96.00" r="2.6" fill="#ff5c5c"/>
<circle cx="388.00" cy="94.75" r="2.6" fill="#ff5c5c"/>
<circle cx="390.00" cy="93.50" r="2.6" fill="#ff5c5c"/>
<circle cx="392.00" cy="92.75" r="2.6" fill="#ff5c5c"/>
<circle cx="394.00" cy="92.00" r="2.6" fill="#ff5c5c"/>
<circle cx="396.45" cy="91.45" r="2.6" fill="#ff5c5c"/>
<circle cx="398.90" cy="90.90" r="2.6" fill="#ff5c5c"/>
<circle cx="400.75" cy="90.58" r="2.6" fill="#ff5c5c"/>
<circle cx="402.60" cy="90.27" r="2.6" fill="#ff5c5c"/>
<circle cx="404.45" cy="89.95" r="2.6" fill="#ff5c5c"/>
<circle cx="406.30" cy="89.63" r="2.6" fill="#ff5c5c"/>
<circle cx="408.15" cy="89.32" r="2.6" fill="#ff5c5c"/>
<circle cx="410.00" cy="89.00" r="2.6" fill="#ff5c5c"/>
<circle cx="412.00" cy="88.80" r="2.6" fill="#ff5c5c"/>
<circle cx="414.00" cy="88.60" r="2.6" fill="#ff5c5c"/>
<circle cx="416.00" cy="88.40" r="2.6" fill="#ff5c5c"/>
<circle cx="418.00" cy="88.20" r="2.6" fill="#ff5c5c"/>
<circle cx="420.00" cy="88.00" r="2.6" fill="#ff5c5c"/>
<circle cx="421.88" cy="87.81" r="2.6" fill="#ff5c5c"/>
<circle cx="423.75" cy="87.62" r="2.6" fill="#ff5c5c"/>
<circle cx="425.62" cy="87.44" r="2.6" fill="#ff5c5c"/>
<circle cx="427.50" cy="87.25" r="2.6" fill="#ff5c5c"/>
<circle cx="429.38" cy="87.06" r="2.6" fill="#ff5c5c"/>
<circle cx="431.25" cy="86.88" r="2.6" fill="#ff5c5c"/>
<circle cx="433.12" cy="86.69" r="2.6" fill="#ff5c5c"/>
<circle cx="435.00" cy="86.50" r="2.6" fill="#ff5c5c"/>
<circle cx="261.20" cy="85.90" r="2.6" fill="#9b30ff"/>
<circle cx="263.18" cy="85.95" r="2.6" fill="#9b30ff"/>
<circle cx="265.17" cy="86.00" r="2.6" fill="#9b30ff"/>
<circle cx="267.15" cy="86.05" r="2.6" fill="#9b30ff"/>
<circle cx="269.13" cy="86.10" r="2.6" fill="#9b30ff"/>
<circle cx="271.12" cy="86.15" r="2.6" fill="#9b30ff"/>
<circle cx="273.10" cy="86.20" r="2.6" fill="#9b30ff"/>
<circle cx="275.08" cy="86.25" r="2.6" fill="#9b30ff"/>
<circle cx="277.07" cy="86.30" r="2.6" fill="#9b30ff"/>
<circle cx="279.05" cy="86.35" r="2.6" fill="#9b30ff"/>
<circle cx="281.03" cy="86.40" r="2.6" fill="#9b30ff"/>
<circle cx="283.02" cy="86.45" r="2.6" fill="#9b30ff"/>
<circle cx="285.00" cy="86.50" r="2.6" fill="#9b30ff"/>
<circle cx="286.75" cy="86.62" r="2.6" fill="#9b30ff"/>
<circle cx="288.50" cy="86.75" r="2.6" fill="#9b30ff"/>
<circle cx="290.25" cy="86.88" r="2.6" fill="#9b30ff"/>
<circle cx="292.00" cy="87.00" r="2.6" fill="#9b30ff"/>
<circle cx="294.00" cy="87.05" r="2.6" fill="#9b30ff"/>
<circle cx="296.00" cy="87.10" r="2.6" fill="#9b30ff"/>
<circle cx="298.00" cy="87.15" r="2.6" fill="#9b30ff"/>
<circle cx="300.00" cy="87.20" r="2.6" fill="#9b30ff"/>
<circle cx="302.00" cy="87.17" r="2.6" fill="#9b30ff"/>
<circle cx="304.00" cy="87.13" r="2.6" fill="#9b30ff"/>
<circle cx="306.00" cy="87.10" r="2.6" fill="#9b30ff"/>
<circle cx="308.00" cy="87.07" r="2.6" fill="#9b30ff"/>
<circle cx="310.00" cy="87.03" r="2.6" fill="#9b30ff"/>
<circle cx="312.00" cy="87.00" r="2.6" fill="#9b30ff"/>
<circle cx="314.00" cy="85.75" r="2.6" fill="#9b30ff"/>
<circle cx="316.00" cy="84.50" r="2.6" fill="#9b30ff"/>
<circle cx="318.00" cy="83.25" r="2.6" fill="#9b30ff"/>
<circle cx="320.00" cy="82.00" r="2.6" fill="#9b30ff"/>
<circle cx="322.50" cy="80.50" r="2.6" fill="#9b30ff"/>
<circle cx="325.00" cy="79.00" r="2.6" fill="#9b30ff"/>
<circle cx="327.50" cy="77.75" r="2.6" fill="#9b30ff"/>
<circle cx="330.00" cy="76.50" r="2.6" fill="#9b30ff"/>
<circle cx="333.00" cy="74.00" r="2.6" fill="#9b30ff"/>
<circle cx="334.75" cy="72.55" r="2.6" fill="#9b30ff"/>
<circle cx="336.50" cy="71.10" r="2.6" fill="#9b30ff"/>
<circle cx="339.30" cy="66.90" r="2.6" fill="#9b30ff"/>
<circle cx="340.90" cy="62.00" r="2.6" fill="#9b30ff"/>
<circle cx="342.80" cy="56.50" r="2.6" fill="#9b30ff"/>
<circle cx="345.50" cy="55.60" r="2.6" fill="#9b30ff"/>
<circle cx="346.40" cy="61.10" r="2.6" fill="#9b30ff"/>
<circle cx="349.20" cy="52.80" r="2.6" fill="#9b30ff"/>
<circle cx="351.90" cy="48.30" r="2.6" fill="#9b30ff"/>
<circle cx="354.30" cy="59.30" r="2.6" fill="#9b30ff"/>
<circle cx="356.50" cy="68.40" r="2.6" fill="#9b30ff"/>
<circle cx="358.30" cy="62.90" r="2.6" fill="#9b30ff"/>
<circle cx="360.20" cy="72.10" r="2.6" fill="#9b30ff"/>
<circle cx="362.00" cy="82.20" r="2.6" fill="#9b30ff"/>
<circle cx="363.90" cy="89.90" r="2.6" fill="#9b30ff"/>
<circle cx="365.90" cy="95.00" r="2.6" fill="#9b30ff"/>
<circle cx="367.60" cy="100.00" r="2.6" fill="#9b30ff"/>
<circle cx="369.50" cy="103.60" r="2.6" fill="#9b30ff"/>
<circle cx="372.50" cy="102.60" r="2.6" fill="#9b30ff"/>
<circle cx="375.00" cy="100.90" r="2.6" fill="#9b30ff"/>
<circle cx="377.00" cy="97.30" r="2.6" fill="#9b30ff"/>
<circle cx="379.00" cy="96.00" r="2.6" fill="#9b30ff"/>
<circle cx="381.70" cy="95.00" r="2.6" fill="#9b30ff"/>
<circle cx="383.35" cy="93.45" r="2.6" fill="#9b30ff"/>
<circle cx="385.00" cy="91.90" r="2.6" fill="#9b30ff"/>
<circle cx="387.50" cy="90.95" r="2.6" fill="#9b30ff"/>
<circle cx="390.00" cy="90.00" r="2.6" fill="#9b30ff"/>
<circle cx="392.00" cy="89.60" r="2.6" fill="#9b30ff"/>
<circle cx="394.00" cy="89.20" r="2.6" fill="#9b30ff"/>
<circle cx="396.00" cy="88.80" r="2.6" fill="#9b30ff"/>
<circle cx="398.00" cy="88.40" r="2.6" fill="#9b30ff"/>
<circle cx="400.00" cy="88.00" r="2.6" fill="#9b30ff"/>
<circle cx="402.00" cy="87.82" r="2.6" fill="#9b30ff"/>
<circle cx="404.00" cy="87.64" r="2.6" fill="#9b30ff"/>
<circle cx="406.00" cy="87.46" r="2.6" fill="#9b30ff"/>
<circle cx="408.00" cy="87.28" r="2.6" fill="#9b30ff"/>
<circle cx="410.00" cy="87.10" r="2.6" fill="#9b30ff"/>
<circle cx="412.00" cy="86.92" r="2.6" fill="#9b30ff"/>
<circle cx="414.00" cy="86.74" r="2.6" fill="#9b30ff"/>
<circle cx="416.00" cy="86.56" r="2.6" fill="#9b30ff"/>
<circle cx="418.00" cy="86.38" r="2.6" fill="#9b30ff"/>
<circle cx="420.00" cy="86.20" r="2.6" fill="#9b30ff"/>
<circle cx="421.88" cy="86.14" r="2.6" fill="#9b30ff"/>
<circle cx="423.75" cy="86.08" r="2.6" fill="#9b30ff"/>
<circle cx="425.62" cy="86.01" r="2.6" fill="#9b30ff"/>
<circle cx="427.50" cy="85.95" r="2.6" fill="#9b30ff"/>
<circle cx="429.38" cy="85.89" r="2.6" fill="#9b30ff"/>
<circle cx="431.25" cy="85.83" r="2.6" fill="#9b30ff"/>
<circle cx="433.12" cy="85.76" r="2.6" fill="#9b30ff"/>
<circle cx="435.00" cy="85.70" r="2.6" fill="#9b30ff"/>
<circle cx="261.20" cy="85.90" r="2.6" fill="#4db8ff"/>
<circle cx="263.26" cy="85.90" r="2.6" fill="#4db8ff"/>
<circle cx="265.31" cy="85.90" r="2.6" fill="#4db8ff"/>
<circle cx="267.37" cy="85.90" r="2.6" fill="#4db8ff"/>
<circle cx="269.43" cy="85.90" r="2.6" fill="#4db8ff"/>
<circle cx="271.49" cy="85.90" r="2.6" fill="#4db8ff"/>
<circle cx="273.54" cy="85.90" r="2.6" fill="#4db8ff"/>
<circle cx="275.60" cy="85.90" r="2.6" fill="#4db8ff"/>
<circle cx="277.66" cy="85.90" r="2.6" fill="#4db8ff"/>
<circle cx="279.71" cy="85.90" r="2.6" fill="#4db8ff"/>
<circle cx="281.77" cy="85.90" r="2.6" fill="#4db8ff"/>
<circle cx="283.83" cy="85.90" r="2.6" fill="#4db8ff"/>
<circle cx="285.89" cy="85.90" r="2.6" fill="#4db8ff"/>
<circle cx="287.94" cy="85.90" r="2.6" fill="#4db8ff"/>
<circle cx="290.00" cy="85.90" r="2.6" fill="#4db8ff"/>
<circle cx="291.96" cy="85.85" r="2.6" fill="#4db8ff"/>
<circle cx="293.92" cy="85.80" r="2.6" fill="#4db8ff"/>
<circle cx="295.88" cy="85.75" r="2.6" fill="#4db8ff"/>
<circle cx="297.83" cy="85.70" r="2.6" fill="#4db8ff"/>
<circle cx="299.79" cy="85.65" r="2.6" fill="#4db8ff"/>
<circle cx="301.75" cy="85.60" r="2.6" fill="#4db8ff"/>
<circle cx="303.71" cy="85.55" r="2.6" fill="#4db8ff"/>
<circle cx="305.67" cy="85.50" r="2.6" fill="#4db8ff"/>
<circle cx="307.62" cy="85.45" r="2.6" fill="#4db8ff"/>
<circle cx="309.58" cy="85.40" r="2.6" fill="#4db8ff"/>
<circle cx="311.54" cy="85.35" r="2.6" fill="#4db8ff"/>
<circle cx="313.50" cy="85.30" r="2.6" fill="#4db8ff"/>
<circle cx="315.67" cy="84.80" r="2.6" fill="#4db8ff"/>
<circle cx="317.83" cy="84.30" r="2.6" fill="#4db8ff"/>
<circle cx="320.00" cy="83.80" r="2.6" fill="#4db8ff"/>
<circle cx="321.85" cy="83.25" r="2.6" fill="#4db8ff"/>
<circle cx="323.70" cy="82.70" r="2.6" fill="#4db8ff"/>
<circle cx="325.55" cy="82.15" r="2.6" fill="#4db8ff"/>
<circle cx="327.40" cy="81.60" r="2.6" fill="#4db8ff"/>
<circle cx="329.70" cy="80.55" r="2.6" fill="#4db8ff"/>
<circle cx="332.00" cy="79.50" r="2.6" fill="#4db8ff"/>
<circle cx="334.00" cy="78.40" r="2.6" fill="#4db8ff"/>
<circle cx="336.00" cy="77.30" r="2.6" fill="#4db8ff"/>
<circle cx="338.00" cy="76.55" r="2.6" fill="#4db8ff"/>
<circle cx="340.00" cy="75.80" r="2.6" fill="#4db8ff"/>
<circle cx="342.00" cy="74.95" r="2.6" fill="#4db8ff"/>
<circle cx="344.00" cy="74.10" r="2.6" fill="#4db8ff"/>
<circle cx="345.50" cy="74.00" r="2.6" fill="#4db8ff"/>
<circle cx="347.15" cy="75.50" r="2.6" fill="#4db8ff"/>
<circle cx="348.80" cy="77.00" r="2.6" fill="#4db8ff"/>
<circle cx="351.00" cy="78.50" r="2.6" fill="#4db8ff"/>
<circle cx="353.00" cy="81.00" r="2.6" fill="#4db8ff"/>
<circle cx="354.70" cy="84.00" r="2.6" fill="#4db8ff"/>
<circle cx="356.50" cy="87.00" r="2.6" fill="#4db8ff"/>
<circle cx="358.30" cy="90.50" r="2.6" fill="#4db8ff"/>
<circle cx="361.10" cy="95.00" r="2.6" fill="#4db8ff"/>
<circle cx="363.00" cy="95.00" r="2.6" fill="#4db8ff"/>
<circle cx="365.00" cy="93.50" r="2.6" fill="#4db8ff"/>
<circle cx="367.20" cy="92.45" r="2.6" fill="#4db8ff"/>
<circle cx="369.40" cy="91.40" r="2.6" fill="#4db8ff"/>
<circle cx="371.27" cy="90.77" r="2.6" fill="#4db8ff"/>
<circle cx="373.13" cy="90.13" r="2.6" fill="#4db8ff"/>
<circle cx="375.00" cy="89.50" r="2.6" fill="#4db8ff"/>
<circle cx="376.80" cy="89.03" r="2.6" fill="#4db8ff"/>
<circle cx="378.60" cy="88.57" r="2.6" fill="#4db8ff"/>
<circle cx="380.40" cy="88.10" r="2.6" fill="#4db8ff"/>
<circle cx="382.32" cy="87.80" r="2.6" fill="#4db8ff"/>
<circle cx="384.24" cy="87.50" r="2.6" fill="#4db8ff"/>
<circle cx="386.16" cy="87.20" r="2.6" fill="#4db8ff"/>
<circle cx="388.08" cy="86.90" r="2.6" fill="#4db8ff"/>
<circle cx="390.00" cy="86.60" r="2.6" fill="#4db8ff"/>
<circle cx="392.00" cy="86.44" r="2.6" fill="#4db8ff"/>
<circle cx="394.00" cy="86.28" r="2.6" fill="#4db8ff"/>
<circle cx="396.00" cy="86.12" r="2.6" fill="#4db8ff"/>
<circle cx="398.00" cy="85.96" r="2.6" fill="#4db8ff"/>
<circle cx="400.00" cy="85.80" r="2.6" fill="#4db8ff"/>
<circle cx="402.04" cy="85.78" r="2.6" fill="#4db8ff"/>
<circle cx="404.07" cy="85.76" r="2.6" fill="#4db8ff"/>
<circle cx="406.11" cy="85.75" r="2.6" fill="#4db8ff"/>
<circle cx="408.14" cy="85.73" r="2.6" fill="#4db8ff"/>
<circle cx="410.18" cy="85.71" r="2.6" fill="#4db8ff"/>
<circle cx="412.21" cy="85.69" r="2.6" fill="#4db8ff"/>
<circle cx="414.25" cy="85.68" r="2.6" fill="#4db8ff"/>
<circle cx="416.28" cy="85.66" r="2.6" fill="#4db8ff"/>
<circle cx="418.32" cy="85.64" r="2.6" fill="#4db8ff"/>
<circle cx="420.35" cy="85.62" r="2.6" fill="#4db8ff"/>
<circle cx="422.39" cy="85.61" r="2.6" fill="#4db8ff"/>
<circle cx="424.42" cy="85.59" r="2.6" fill="#4db8ff"/>
<circle cx="426.46" cy="85.57" r="2.6" fill="#4db8ff"/>
<circle cx="428.49" cy="85.55" r="2.6" fill="#4db8ff"/>
<circle cx="430.53" cy="85.54" r="2.6" fill="#4db8ff"/>
<circle cx="432.56" cy="85.52" r="2.6" fill="#4db8ff"/>
<circle cx="434.60" cy="85.50" r="2.6" fill="#4db8ff"/>
<rect x="252.5" y="169.6" width="190.0" height="126.4" fill="none" stroke="#222" stroke-width="0.9"/>
<line x1="261.2" y1="296" x2="261.2" y2="293.8" stroke="#222" stroke-width="0.8"/>
<text x="260.9" y="309.4" font-size="12" text-anchor="middle" font-weight="normal" fill="#000" font-family='"Liberation Sans", sans-serif' >-20</text>
<line x1="304.45" y1="296" x2="304.45" y2="293.8" stroke="#222" stroke-width="0.8"/>
<text x="304.15" y="309.4" font-size="12" text-anchor="middle" font-weight="normal" fill="#000" font-family='"Liberation Sans", sans-serif' >-10</text>
<line x1="347.7" y1="296" x2="347.7" y2="293.8" stroke="#222" stroke-width="0.8"/>
<text x="347.4" y="309.4" font-size="12" text-anchor="middle" font-weight="normal" fill="#000" font-family='"Liberation Sans", sans-serif' >0</text>
<line x1="390.95" y1="296" x2="390.95" y2="293.8" stroke="#222" stroke-width="0.8"/>
<text x="390.65" y="309.4" font-size="12" text-anchor="middle" font-weight="normal" fill="#000" font-family='"Liberation Sans", sans-serif' >10</text>
<line x1="434.2" y1="296" x2="434.2" y2="293.8" stroke="#222" stroke-width="0.8"/>
<text x="433.9" y="309.4" font-size="12" text-anchor="middle" font-weight="normal" fill="#000" font-family='"Liberation Sans", sans-serif' >20</text>
<line x1="252.5" y1="283.28" x2="254.7" y2="283.28" stroke="#222" stroke-width="0.8"/>
<text x="248.8" y="287.38" font-size="11.5" text-anchor="end" font-weight="normal" fill="#000" font-family='"Liberation Sans", sans-serif' >-6</text>
<line x1="252.5" y1="260.52" x2="254.7" y2="260.52" stroke="#222" stroke-width="0.8"/>
<text x="248.8" y="264.62" font-size="11.5" text-anchor="end" font-weight="normal" fill="#000" font-family='"Liberation Sans", sans-serif' >-4</text>
<line x1="252.5" y1="237.76" x2="254.7" y2="237.76" stroke="#222" stroke-width="0.8"/>
<text x="248.8" y="241.85999999999999" font-size="11.5" text-anchor="end" font-weight="normal" fill="#000" font-family='"Liberation Sans", sans-serif' >-2</text>
<line x1="252.5" y1="215.0" x2="254.7" y2="215.0" stroke="#222" stroke-width="0.8"/>
<text x="248.8" y="219.1" font-size="11.5" text-anchor="end" font-weight="normal" fill="#000" font-family='"Liberation Sans", sans-serif' >0</text>
<line x1="252.5" y1="192.24" x2="254.7" y2="192.24" stroke="#222" stroke-width="0.8"/>
<text x="248.8" y="196.34" font-size="11.5" text-anchor="end" font-weight="normal" fill="#000" font-family='"Liberation Sans", sans-serif' >2</text>
<text transform="translate(234.2 229) rotate(-90)" text-anchor="middle" font-size="12.5" font-family='"Liberation Sans", sans-serif' fill="#111">PC<tspan font-size="8.50" dy="3">2</tspan><tspan dy="-3"> (nA)</tspan></text>
<text x="357" y="322.5" text-anchor="middle" font-size="12.5" font-family='"Liberation Sans", sans-serif' fill="#111">V<tspan font-size="8.5" dy="3.2">g</tspan><tspan dy="-3.2">(V)</tspan></text>
<path d="M260.00,182.50 H268.00" stroke="#222" stroke-width="1.05"/>
<path d="M270.80,177.20 V188.70 M291.60,177.20 V188.70" stroke="#222" stroke-width="0.9"/>
<text x="273.00" y="186.10" font-size="12.2" font-family='"Liberation Serif", serif' fill="#111" >I</text>
<text x="276.70" y="188.80" font-size="8.7" font-family='"Liberation Serif", serif' fill="#111" >DC</text>
<circle cx="396.6" cy="181.2" r="2.6" fill="#ff5c5c"/>
<text x="409.1" y="185.2" font-size="11.5" text-anchor="middle" font-weight="normal" fill="#111" font-family='"Liberation Sans", sans-serif' >1</text>
<circle cx="396.6" cy="191.1" r="2.6" fill="#9b30ff"/>
<text x="409.1" y="195.1" font-size="11.5" text-anchor="middle" font-weight="normal" fill="#111" font-family='"Liberation Sans", sans-serif' >2</text>
<circle cx="396.6" cy="201.3" r="2.6" fill="#4db8ff"/>
<text x="409.1" y="205.3" font-size="11.5" text-anchor="middle" font-weight="normal" fill="#111" font-family='"Liberation Sans", sans-serif' >3</text>
<path d="M283.10,256.50 Q285.2,257.70 287.30,256.50 L294.0,267 A8.8,1.5 0 0 1 276.4,267 Z" fill="#a3a3a3" stroke="#a0a0a0" stroke-width="0.4"/>
<path d="M276.4,238.6 L294.0,267 M294.0,238.6 L276.4,267" stroke="#9a9a9a" stroke-width="0.55" fill="none"/>
<ellipse cx="285.2" cy="238.6" rx="8.8" ry="1.4" fill="none" stroke="#9a9a9a" stroke-width="0.55"/>
<path d="M405.60,252.50 Q405.6,253.70 405.60,252.50 L414.20000000000005,267.5 A8.6,1.5 0 0 1 397.0,267.5 Z" fill="#a3a3a3" stroke="#a0a0a0" stroke-width="0.4"/>
<path d="M405.6,252.5 L407.38,249.50 Q405.6,250.70 403.82,249.50 Z" fill="#b0b0b0"/>
<path d="M397.0,238.0 L414.20000000000005,267.5 M414.20000000000005,238.0 L397.0,267.5" stroke="#9a9a9a" stroke-width="0.55" fill="none"/>
<ellipse cx="405.6" cy="238.0" rx="8.6" ry="1.4" fill="none" stroke="#9a9a9a" stroke-width="0.55"/>
<circle cx="357.2" cy="190.8" r="16" fill="url(#blobg)"/>
<path d="M335.9,178.2 L352.1,178.2 L344.0,190.8 Z" fill="#fff"/>
<path d="M344.00,190.80 Q344.0,192.00 344.00,190.80 L352.1,205.6 A8.1,1.5 0 0 1 335.9,205.6 Z" fill="#a3a3a3" stroke="#a0a0a0" stroke-width="0.4"/>
<path d="M335.9,178.2 L352.1,205.6 M352.1,178.2 L335.9,205.6" stroke="#9a9a9a" stroke-width="0.55" fill="none"/>
<ellipse cx="344.0" cy="178.2" rx="8.1" ry="1.4" fill="none" stroke="#9a9a9a" stroke-width="0.55"/>
<circle cx="355.6" cy="189.3" r="2.0" fill="url(#bsph)"/>
<circle cx="355.6" cy="196.1" r="2.0" fill="url(#rsph)"/>
<circle cx="261.20" cy="215.00" r="2.6" fill="#ff5c5c"/>
<circle cx="263.29" cy="214.94" r="2.6" fill="#ff5c5c"/>
<circle cx="265.38" cy="214.89" r="2.6" fill="#ff5c5c"/>
<circle cx="267.47" cy="214.83" r="2.6" fill="#ff5c5c"/>
<circle cx="269.56" cy="214.78" r="2.6" fill="#ff5c5c"/>
<circle cx="271.64" cy="214.72" r="2.6" fill="#ff5c5c"/>
<circle cx="273.73" cy="214.67" r="2.6" fill="#ff5c5c"/>
<circle cx="275.82" cy="214.61" r="2.6" fill="#ff5c5c"/>
<circle cx="277.91" cy="214.56" r="2.6" fill="#ff5c5c"/>
<circle cx="280.00" cy="214.50" r="2.6" fill="#ff5c5c"/>
<circle cx="281.88" cy="214.19" r="2.6" fill="#ff5c5c"/>
<circle cx="283.75" cy="213.88" r="2.6" fill="#ff5c5c"/>
<circle cx="285.62" cy="213.56" r="2.6" fill="#ff5c5c"/>
<circle cx="287.50" cy="213.25" r="2.6" fill="#ff5c5c"/>
<circle cx="289.38" cy="212.94" r="2.6" fill="#ff5c5c"/>
<circle cx="291.25" cy="212.62" r="2.6" fill="#ff5c5c"/>
<circle cx="293.12" cy="212.31" r="2.6" fill="#ff5c5c"/>
<circle cx="295.00" cy="212.00" r="2.6" fill="#ff5c5c"/>
<circle cx="297.00" cy="211.60" r="2.6" fill="#ff5c5c"/>
<circle cx="299.00" cy="211.20" r="2.6" fill="#ff5c5c"/>
<circle cx="301.00" cy="210.80" r="2.6" fill="#ff5c5c"/>
<circle cx="303.00" cy="210.40" r="2.6" fill="#ff5c5c"/>
<circle cx="305.00" cy="210.00" r="2.6" fill="#ff5c5c"/>
<circle cx="307.50" cy="209.25" r="2.6" fill="#ff5c5c"/>
<circle cx="310.00" cy="208.50" r="2.6" fill="#ff5c5c"/>
<circle cx="312.45" cy="207.25" r="2.6" fill="#ff5c5c"/>
<circle cx="314.90" cy="206.00" r="2.6" fill="#ff5c5c"/>
<circle cx="317.50" cy="203.00" r="2.6" fill="#ff5c5c"/>
<circle cx="319.50" cy="199.50" r="2.6" fill="#ff5c5c"/>
<circle cx="321.30" cy="193.40" r="2.6" fill="#ff5c5c"/>
<circle cx="323.23" cy="201.30" r="2.6" fill="#ff5c5c"/>
<circle cx="325.17" cy="209.20" r="2.6" fill="#ff5c5c"/>
<circle cx="327.10" cy="217.10" r="2.6" fill="#ff5c5c"/>
<circle cx="328.90" cy="226.60" r="2.6" fill="#ff5c5c"/>
<circle cx="331.10" cy="238.40" r="2.6" fill="#ff5c5c"/>
<circle cx="332.90" cy="253.50" r="2.6" fill="#ff5c5c"/>
<circle cx="334.80" cy="263.20" r="2.6" fill="#ff5c5c"/>
<circle cx="337.10" cy="274.60" r="2.6" fill="#ff5c5c"/>
<circle cx="339.40" cy="279.20" r="2.6" fill="#ff5c5c"/>
<circle cx="341.00" cy="280.40" r="2.6" fill="#ff5c5c"/>
<circle cx="343.30" cy="274.60" r="2.6" fill="#ff5c5c"/>
<circle cx="345.60" cy="271.20" r="2.6" fill="#ff5c5c"/>
<circle cx="348.50" cy="263.20" r="2.6" fill="#ff5c5c"/>
<circle cx="350.80" cy="258.60" r="2.6" fill="#ff5c5c"/>
<circle cx="352.40" cy="254.40" r="2.6" fill="#ff5c5c"/>
<circle cx="354.70" cy="249.40" r="2.6" fill="#ff5c5c"/>
<circle cx="357.00" cy="243.70" r="2.6" fill="#ff5c5c"/>
<circle cx="359.30" cy="237.90" r="2.6" fill="#ff5c5c"/>
<circle cx="361.05" cy="234.45" r="2.6" fill="#ff5c5c"/>
<circle cx="362.80" cy="231.00" r="2.6" fill="#ff5c5c"/>
<circle cx="364.50" cy="228.95" r="2.6" fill="#ff5c5c"/>
<circle cx="366.20" cy="226.90" r="2.6" fill="#ff5c5c"/>
<circle cx="367.97" cy="225.60" r="2.6" fill="#ff5c5c"/>
<circle cx="369.73" cy="224.30" r="2.6" fill="#ff5c5c"/>
<circle cx="371.50" cy="223.00" r="2.6" fill="#ff5c5c"/>
<circle cx="373.62" cy="222.00" r="2.6" fill="#ff5c5c"/>
<circle cx="375.75" cy="221.00" r="2.6" fill="#ff5c5c"/>
<circle cx="377.88" cy="220.00" r="2.6" fill="#ff5c5c"/>
<circle cx="380.00" cy="219.00" r="2.6" fill="#ff5c5c"/>
<circle cx="382.00" cy="218.70" r="2.6" fill="#ff5c5c"/>
<circle cx="384.00" cy="218.40" r="2.6" fill="#ff5c5c"/>
<circle cx="386.00" cy="218.10" r="2.6" fill="#ff5c5c"/>
<circle cx="388.00" cy="217.80" r="2.6" fill="#ff5c5c"/>
<circle cx="390.00" cy="217.50" r="2.6" fill="#ff5c5c"/>
<circle cx="392.00" cy="217.20" r="2.6" fill="#ff5c5c"/>
<circle cx="394.00" cy="216.90" r="2.6" fill="#ff5c5c"/>
<circle cx="396.00" cy="216.60" r="2.6" fill="#ff5c5c"/>
<circle cx="398.00" cy="216.30" r="2.6" fill="#ff5c5c"/>
<circle cx="400.00" cy="216.00" r="2.6" fill="#ff5c5c"/>
<circle cx="401.94" cy="215.94" r="2.6" fill="#ff5c5c"/>
<circle cx="403.89" cy="215.89" r="2.6" fill="#ff5c5c"/>
<circle cx="405.83" cy="215.83" r="2.6" fill="#ff5c5c"/>
<circle cx="407.78" cy="215.78" r="2.6" fill="#ff5c5c"/>
<circle cx="409.72" cy="215.72" r="2.6" fill="#ff5c5c"/>
<circle cx="411.67" cy="215.67" r="2.6" fill="#ff5c5c"/>
<circle cx="413.61" cy="215.61" r="2.6" fill="#ff5c5c"/>
<circle cx="415.56" cy="215.56" r="2.6" fill="#ff5c5c"/>
<circle cx="417.50" cy="215.50" r="2.6" fill="#ff5c5c"/>
<circle cx="419.44" cy="215.44" r="2.6" fill="#ff5c5c"/>
<circle cx="421.39" cy="215.39" r="2.6" fill="#ff5c5c"/>
<circle cx="423.33" cy="215.33" r="2.6" fill="#ff5c5c"/>
<circle cx="425.28" cy="215.28" r="2.6" fill="#ff5c5c"/>
<circle cx="427.22" cy="215.22" r="2.6" fill="#ff5c5c"/>
<circle cx="429.17" cy="215.17" r="2.6" fill="#ff5c5c"/>
<circle cx="431.11" cy="215.11" r="2.6" fill="#ff5c5c"/>
<circle cx="433.06" cy="215.06" r="2.6" fill="#ff5c5c"/>
<circle cx="435.00" cy="215.00" r="2.6" fill="#ff5c5c"/>
<circle cx="261.20" cy="215.00" r="2.6" fill="#9b30ff"/>
<circle cx="263.24" cy="214.89" r="2.6" fill="#9b30ff"/>
<circle cx="265.28" cy="214.79" r="2.6" fill="#9b30ff"/>
<circle cx="267.33" cy="214.68" r="2.6" fill="#9b30ff"/>
<circle cx="269.37" cy="214.58" r="2.6" fill="#9b30ff"/>
<circle cx="271.41" cy="214.47" r="2.6" fill="#9b30ff"/>
<circle cx="273.45" cy="214.37" r="2.6" fill="#9b30ff"/>
<circle cx="275.49" cy="214.26" r="2.6" fill="#9b30ff"/>
<circle cx="277.54" cy="214.16" r="2.6" fill="#9b30ff"/>
<circle cx="279.58" cy="214.05" r="2.6" fill="#9b30ff"/>
<circle cx="281.62" cy="213.95" r="2.6" fill="#9b30ff"/>
<circle cx="283.66" cy="213.84" r="2.6" fill="#9b30ff"/>
<circle cx="285.71" cy="213.74" r="2.6" fill="#9b30ff"/>
<circle cx="287.75" cy="213.63" r="2.6" fill="#9b30ff"/>
<circle cx="289.79" cy="213.53" r="2.6" fill="#9b30ff"/>
<circle cx="291.83" cy="213.42" r="2.6" fill="#9b30ff"/>
<circle cx="293.87" cy="213.32" r="2.6" fill="#9b30ff"/>
<circle cx="295.92" cy="213.21" r="2.6" fill="#9b30ff"/>
<circle cx="297.96" cy="213.11" r="2.6" fill="#9b30ff"/>
<circle cx="300.00" cy="213.00" r="2.6" fill="#9b30ff"/>
<circle cx="301.88" cy="212.38" r="2.6" fill="#9b30ff"/>
<circle cx="303.75" cy="211.75" r="2.6" fill="#9b30ff"/>
<circle cx="305.62" cy="211.12" r="2.6" fill="#9b30ff"/>
<circle cx="307.50" cy="210.50" r="2.6" fill="#9b30ff"/>
<circle cx="309.38" cy="209.88" r="2.6" fill="#9b30ff"/>
<circle cx="311.25" cy="209.25" r="2.6" fill="#9b30ff"/>
<circle cx="313.12" cy="208.62" r="2.6" fill="#9b30ff"/>
<circle cx="315.00" cy="208.00" r="2.6" fill="#9b30ff"/>
<circle cx="317.50" cy="206.25" r="2.6" fill="#9b30ff"/>
<circle cx="320.00" cy="204.50" r="2.6" fill="#9b30ff"/>
<circle cx="322.50" cy="202.60" r="2.6" fill="#9b30ff"/>
<circle cx="324.80" cy="198.80" r="2.6" fill="#9b30ff"/>
<circle cx="327.10" cy="201.80" r="2.6" fill="#9b30ff"/>
<circle cx="330.20" cy="212.50" r="2.6" fill="#9b30ff"/>
<circle cx="332.50" cy="220.00" r="2.6" fill="#9b30ff"/>
<circle cx="334.80" cy="225.30" r="2.6" fill="#9b30ff"/>
<circle cx="337.10" cy="231.50" r="2.6" fill="#9b30ff"/>
<circle cx="338.70" cy="236.10" r="2.6" fill="#9b30ff"/>
<circle cx="341.00" cy="242.50" r="2.6" fill="#9b30ff"/>
<circle cx="343.30" cy="243.70" r="2.6" fill="#9b30ff"/>
<circle cx="344.90" cy="249.90" r="2.6" fill="#9b30ff"/>
<circle cx="347.80" cy="251.70" r="2.6" fill="#9b30ff"/>
<circle cx="350.80" cy="250.60" r="2.6" fill="#9b30ff"/>
<circle cx="353.10" cy="246.00" r="2.6" fill="#9b30ff"/>
<circle cx="355.40" cy="241.40" r="2.6" fill="#9b30ff"/>
<circle cx="357.70" cy="237.90" r="2.6" fill="#9b30ff"/>
<circle cx="360.50" cy="231.00" r="2.6" fill="#9b30ff"/>
<circle cx="363.20" cy="224.60" r="2.6" fill="#9b30ff"/>
<circle cx="365.50" cy="223.00" r="2.6" fill="#9b30ff"/>
<circle cx="367.80" cy="221.40" r="2.6" fill="#9b30ff"/>
<circle cx="369.93" cy="220.63" r="2.6" fill="#9b30ff"/>
<circle cx="372.07" cy="219.87" r="2.6" fill="#9b30ff"/>
<circle cx="374.20" cy="219.10" r="2.6" fill="#9b30ff"/>
<circle cx="376.18" cy="218.78" r="2.6" fill="#9b30ff"/>
<circle cx="378.15" cy="218.45" r="2.6" fill="#9b30ff"/>
<circle cx="380.12" cy="218.12" r="2.6" fill="#9b30ff"/>
<circle cx="382.10" cy="217.80" r="2.6" fill="#9b30ff"/>
<circle cx="384.07" cy="217.47" r="2.6" fill="#9b30ff"/>
<circle cx="386.05" cy="217.15" r="2.6" fill="#9b30ff"/>
<circle cx="388.02" cy="216.82" r="2.6" fill="#9b30ff"/>
<circle cx="390.00" cy="216.50" r="2.6" fill="#9b30ff"/>
<circle cx="392.05" cy="216.43" r="2.6" fill="#9b30ff"/>
<circle cx="394.09" cy="216.36" r="2.6" fill="#9b30ff"/>
<circle cx="396.14" cy="216.30" r="2.6" fill="#9b30ff"/>
<circle cx="398.18" cy="216.23" r="2.6" fill="#9b30ff"/>
<circle cx="400.23" cy="216.16" r="2.6" fill="#9b30ff"/>
<circle cx="402.27" cy="216.09" r="2.6" fill="#9b30ff"/>
<circle cx="404.32" cy="216.02" r="2.6" fill="#9b30ff"/>
<circle cx="406.36" cy="215.95" r="2.6" fill="#9b30ff"/>
<circle cx="408.41" cy="215.89" r="2.6" fill="#9b30ff"/>
<circle cx="410.45" cy="215.82" r="2.6" fill="#9b30ff"/>
<circle cx="412.50" cy="215.75" r="2.6" fill="#9b30ff"/>
<circle cx="414.55" cy="215.68" r="2.6" fill="#9b30ff"/>
<circle cx="416.59" cy="215.61" r="2.6" fill="#9b30ff"/>
<circle cx="418.64" cy="215.55" r="2.6" fill="#9b30ff"/>
<circle cx="420.68" cy="215.48" r="2.6" fill="#9b30ff"/>
<circle cx="422.73" cy="215.41" r="2.6" fill="#9b30ff"/>
<circle cx="424.77" cy="215.34" r="2.6" fill="#9b30ff"/>
<circle cx="426.82" cy="215.27" r="2.6" fill="#9b30ff"/>
<circle cx="428.86" cy="215.20" r="2.6" fill="#9b30ff"/>
<circle cx="430.91" cy="215.14" r="2.6" fill="#9b30ff"/>
<circle cx="432.95" cy="215.07" r="2.6" fill="#9b30ff"/>
<circle cx="435.00" cy="215.00" r="2.6" fill="#9b30ff"/>
<circle cx="261.20" cy="215.00" r="2.6" fill="#4db8ff"/>
<circle cx="263.24" cy="214.97" r="2.6" fill="#4db8ff"/>
<circle cx="265.28" cy="214.94" r="2.6" fill="#4db8ff"/>
<circle cx="267.33" cy="214.91" r="2.6" fill="#4db8ff"/>
<circle cx="269.37" cy="214.87" r="2.6" fill="#4db8ff"/>
<circle cx="271.41" cy="214.84" r="2.6" fill="#4db8ff"/>
<circle cx="273.45" cy="214.81" r="2.6" fill="#4db8ff"/>
<circle cx="275.49" cy="214.78" r="2.6" fill="#4db8ff"/>
<circle cx="277.54" cy="214.75" r="2.6" fill="#4db8ff"/>
<circle cx="279.58" cy="214.72" r="2.6" fill="#4db8ff"/>
<circle cx="281.62" cy="214.68" r="2.6" fill="#4db8ff"/>
<circle cx="283.66" cy="214.65" r="2.6" fill="#4db8ff"/>
<circle cx="285.71" cy="214.62" r="2.6" fill="#4db8ff"/>
<circle cx="287.75" cy="214.59" r="2.6" fill="#4db8ff"/>
<circle cx="289.79" cy="214.56" r="2.6" fill="#4db8ff"/>
<circle cx="291.83" cy="214.53" r="2.6" fill="#4db8ff"/>
<circle cx="293.87" cy="214.49" r="2.6" fill="#4db8ff"/>
<circle cx="295.92" cy="214.46" r="2.6" fill="#4db8ff"/>
<circle cx="297.96" cy="214.43" r="2.6" fill="#4db8ff"/>
<circle cx="300.00" cy="214.40" r="2.6" fill="#4db8ff"/>
<circle cx="301.88" cy="213.97" r="2.6" fill="#4db8ff"/>
<circle cx="303.75" cy="213.55" r="2.6" fill="#4db8ff"/>
<circle cx="305.62" cy="213.12" r="2.6" fill="#4db8ff"/>
<circle cx="307.50" cy="212.70" r="2.6" fill="#4db8ff"/>
<circle cx="309.38" cy="212.28" r="2.6" fill="#4db8ff"/>
<circle cx="311.25" cy="211.85" r="2.6" fill="#4db8ff"/>
<circle cx="313.12" cy="211.43" r="2.6" fill="#4db8ff"/>
<circle cx="315.00" cy="211.00" r="2.6" fill="#4db8ff"/>
<circle cx="317.14" cy="210.22" r="2.6" fill="#4db8ff"/>
<circle cx="319.28" cy="209.44" r="2.6" fill="#4db8ff"/>
<circle cx="321.42" cy="208.66" r="2.6" fill="#4db8ff"/>
<circle cx="323.56" cy="207.88" r="2.6" fill="#4db8ff"/>
<circle cx="325.70" cy="207.10" r="2.6" fill="#4db8ff"/>
<circle cx="327.90" cy="207.00" r="2.6" fill="#4db8ff"/>
<circle cx="330.00" cy="208.45" r="2.6" fill="#4db8ff"/>
<circle cx="332.10" cy="209.90" r="2.6" fill="#4db8ff"/>
<circle cx="334.80" cy="212.50" r="2.6" fill="#4db8ff"/>
<circle cx="336.65" cy="214.85" r="2.6" fill="#4db8ff"/>
<circle cx="338.50" cy="217.20" r="2.6" fill="#4db8ff"/>
<circle cx="340.90" cy="220.20" r="2.6" fill="#4db8ff"/>
<circle cx="343.10" cy="221.80" r="2.6" fill="#4db8ff"/>
<circle cx="345.00" cy="226.40" r="2.6" fill="#4db8ff"/>
<circle cx="347.13" cy="225.30" r="2.6" fill="#4db8ff"/>
<circle cx="349.27" cy="224.20" r="2.6" fill="#4db8ff"/>
<circle cx="351.40" cy="223.10" r="2.6" fill="#4db8ff"/>
<circle cx="353.22" cy="222.07" r="2.6" fill="#4db8ff"/>
<circle cx="355.05" cy="221.05" r="2.6" fill="#4db8ff"/>
<circle cx="356.88" cy="220.03" r="2.6" fill="#4db8ff"/>
<circle cx="358.70" cy="219.00" r="2.6" fill="#4db8ff"/>
<circle cx="360.59" cy="218.76" r="2.6" fill="#4db8ff"/>
<circle cx="362.47" cy="218.51" r="2.6" fill="#4db8ff"/>
<circle cx="364.36" cy="218.27" r="2.6" fill="#4db8ff"/>
<circle cx="366.24" cy="218.03" r="2.6" fill="#4db8ff"/>
<circle cx="368.13" cy="217.79" r="2.6" fill="#4db8ff"/>
<circle cx="370.01" cy="217.54" r="2.6" fill="#4db8ff"/>
<circle cx="371.90" cy="217.30" r="2.6" fill="#4db8ff"/>
<circle cx="373.91" cy="217.16" r="2.6" fill="#4db8ff"/>
<circle cx="375.92" cy="217.01" r="2.6" fill="#4db8ff"/>
<circle cx="377.93" cy="216.87" r="2.6" fill="#4db8ff"/>
<circle cx="379.94" cy="216.72" r="2.6" fill="#4db8ff"/>
<circle cx="381.96" cy="216.58" r="2.6" fill="#4db8ff"/>
<circle cx="383.97" cy="216.43" r="2.6" fill="#4db8ff"/>
<circle cx="385.98" cy="216.29" r="2.6" fill="#4db8ff"/>
<circle cx="387.99" cy="216.14" r="2.6" fill="#4db8ff"/>
<circle cx="390.00" cy="216.00" r="2.6" fill="#4db8ff"/>
<circle cx="392.05" cy="215.95" r="2.6" fill="#4db8ff"/>
<circle cx="394.09" cy="215.91" r="2.6" fill="#4db8ff"/>
<circle cx="396.14" cy="215.86" r="2.6" fill="#4db8ff"/>
<circle cx="398.18" cy="215.82" r="2.6" fill="#4db8ff"/>
<circle cx="400.23" cy="215.77" r="2.6" fill="#4db8ff"/>
<circle cx="402.27" cy="215.73" r="2.6" fill="#4db8ff"/>
<circle cx="404.32" cy="215.68" r="2.6" fill="#4db8ff"/>
<circle cx="406.36" cy="215.64" r="2.6" fill="#4db8ff"/>
<circle cx="408.41" cy="215.59" r="2.6" fill="#4db8ff"/>
<circle cx="410.45" cy="215.55" r="2.6" fill="#4db8ff"/>
<circle cx="412.50" cy="215.50" r="2.6" fill="#4db8ff"/>
<circle cx="414.55" cy="215.45" r="2.6" fill="#4db8ff"/>
<circle cx="416.59" cy="215.41" r="2.6" fill="#4db8ff"/>
<circle cx="418.64" cy="215.36" r="2.6" fill="#4db8ff"/>
<circle cx="420.68" cy="215.32" r="2.6" fill="#4db8ff"/>
<circle cx="422.73" cy="215.27" r="2.6" fill="#4db8ff"/>
<circle cx="424.77" cy="215.23" r="2.6" fill="#4db8ff"/>
<circle cx="426.82" cy="215.18" r="2.6" fill="#4db8ff"/>
<circle cx="428.86" cy="215.14" r="2.6" fill="#4db8ff"/>
<circle cx="430.91" cy="215.09" r="2.6" fill="#4db8ff"/>
<circle cx="432.95" cy="215.05" r="2.6" fill="#4db8ff"/>
<circle cx="435.00" cy="215.00" r="2.6" fill="#4db8ff"/>
<clipPath id="eclip"><rect x="481" y="5" width="152.29999999999995" height="289.6"/></clipPath>
<g clip-path="url(#eclip)">
<rect x="481" y="5" width="152.29999999999995" height="289.6" fill="#e5e8f8"/>
<rect x="496.2" y="72" width="1.2" height="186" fill="#cdd3f3" opacity="0.23" filter="url(#blurs)"/>
<rect x="485.2" y="72" width="1.8" height="186" fill="#cdd3f3" opacity="0.17" filter="url(#blurs)"/>
<rect x="484.6" y="72" width="1.8" height="186" fill="#cdd3f3" opacity="0.11" filter="url(#blurs)"/>
<rect x="501.1" y="72" width="1.1" height="186" fill="#cdd3f3" opacity="0.12" filter="url(#blurs)"/>
<rect x="500.7" y="72" width="2.2" height="186" fill="#cdd3f3" opacity="0.12" filter="url(#blurs)"/>
<rect x="491.8" y="72" width="1.9" height="186" fill="#cdd3f3" opacity="0.29" filter="url(#blurs)"/>
<rect x="507.4" y="72" width="1.6" height="186" fill="#cdd3f3" opacity="0.30" filter="url(#blurs)"/>
<rect x="484.0" y="72" width="2.3" height="186" fill="#cdd3f3" opacity="0.16" filter="url(#blurs)"/>
<rect x="488.3" y="72" width="1.2" height="186" fill="#cdd3f3" opacity="0.16" filter="url(#blurs)"/>
<rect x="517.9" y="72" width="1.3" height="186" fill="#cdd3f3" opacity="0.22" filter="url(#blurs)"/>
<rect x="510.1" y="72" width="1.6" height="186" fill="#cdd3f3" opacity="0.21" filter="url(#blurs)"/>
<rect x="484.8" y="72" width="1.1" height="186" fill="#cdd3f3" opacity="0.14" filter="url(#blurs)"/>
<rect x="511.9" y="72" width="1.6" height="186" fill="#cdd3f3" opacity="0.16" filter="url(#blurs)"/>
<rect x="507.8" y="72" width="1.7" height="186" fill="#cdd3f3" opacity="0.16" filter="url(#blurs)"/>
<rect x="517.0" y="72" width="2.0" height="186" fill="#cdd3f3" opacity="0.15" filter="url(#blurs)"/>
<rect x="507.3" y="72" width="1.8" height="186" fill="#cdd3f3" opacity="0.28" filter="url(#blurs)"/>
<rect x="514.1" y="72" width="1.4" height="186" fill="#cdd3f3" opacity="0.30" filter="url(#blurs)"/>
<rect x="487.2" y="72" width="1.6" height="186" fill="#cdd3f3" opacity="0.25" filter="url(#blurs)"/>
<rect x="488.7" y="72" width="1.7" height="186" fill="#cdd3f3" opacity="0.11" filter="url(#blurs)"/>
<rect x="511.4" y="72" width="2.1" height="186" fill="#cdd3f3" opacity="0.21" filter="url(#blurs)"/>
<rect x="520.5" y="72" width="1.5" height="186" fill="#cdd3f3" opacity="0.24" filter="url(#blurs)"/>
<rect x="508.2" y="72" width="1.9" height="186" fill="#cdd3f3" opacity="0.19" filter="url(#blurs)"/>
<rect x="519.0" y="72" width="2.4" height="186" fill="#cdd3f3" opacity="0.19" filter="url(#blurs)"/>
<rect x="511.2" y="72" width="1.1" height="186" fill="#cdd3f3" opacity="0.24" filter="url(#blurs)"/>
<rect x="510.5" y="72" width="2.5" height="186" fill="#cdd3f3" opacity="0.26" filter="url(#blurs)"/>
<rect x="494.5" y="72" width="1.6" height="186" fill="#cdd3f3" opacity="0.23" filter="url(#blurs)"/>
<g filter="url(#blur1)">
<polygon points="470,0 640,0 640,34 470,34" fill="#f6f4f8" />
<polygon points="470,267 640,267 640,300 470,300" fill="#f9f4f5" />
<polygon points="590,29 640,29 640,39 590,39" fill="#f5e6ea" />
<polygon points="470,34 551,34 551,41.5 470,41.5" fill="#f3d2d4" />
<polygon points="500,34.5 551,34.5 551,41 500,41" fill="#f0b4b6" />
<polygon points="470,43 495,43 495,67 470,67" fill="#e6e9f8" />
<polygon points="495,43 514,43 514,67 495,67" fill="#c9cff4" />
<polygon points="514,44 551,44 551,66 514,66" fill="#7780e6" />
<polygon points="470,66 551,66 551,70 470,70" fill="#eeeff7" />
</g>
<g filter="url(#blur3)">
<polygon points="564,34 590,36 596,60 606,90 622,120 628,190 625,262 575,262 574,200 571.7,158 566.8,82" fill="url(#bfade)" />
<polygon points="520,68 552,68 552,260 496,260 496,249 508,215 514,200 518,157 520,82" fill="url(#rfade)" />
</g>
<rect x="481" y="5" width="152.3" height="289.6" filter="url(#speck)" opacity="0.45"/>
<g filter="url(#blur1)">
<polygon points="522,66 551,66 551,72 522,72" fill="#f39a9a" />
<polygon points="551,36 564.3,36 565.5,82 566,110 570,160 573.5,210 574.1,260 522,260 522.8,220 535,200 542.3,158 543.6,84 540,76 535,69.5 551,68" fill="#ff2020" />
<polygon points="558,26 562,30 563,37 553,37 554,30" fill="#f39a9a" />
</g>
<g filter="url(#blur2)">
<polygon points="519,226 545,234 566,240 545,246 519,250" fill="#f69a9a" />
</g>
<g filter="url(#blur1)">
<polygon points="502,249.3 522,249.3 522,260 502,260" fill="url(#finger)" />
<polygon points="564.3,34.3 582,36 582,60 583,82 586.5,110 588,158 587,210 586,250 574.1,252 572.5,210 569,160 565,110 564.5,82" fill="#4248ee" />
<polygon points="564.3,34.3 578,36 578,60 577.8,82 580,110 582.7,158 582,210 582,250 574.1,252 572.5,210 569,160 565,110 564.5,82" fill="#2428f2" />
<polygon points="574.1,250 585,250 583,262 574.1,262" fill="#6f78ea" />
<polygon points="470,259 520.3,259 520.3,266.5 470,266.5" fill="#2230ec" />
<polygon points="520.3,259.5 568,259.5 568,266 520.3,266" fill="#a6abee" />
<circle cx="510" cy="213" r="1.6" fill="#5a64e4"/>
<circle cx="515" cy="219" r="1.6" fill="#5a64e4"/>
<circle cx="512" cy="222" r="1.6" fill="#5a64e4"/>
<circle cx="518" cy="214" r="1.6" fill="#5a64e4"/>
<circle cx="508" cy="218" r="1.6" fill="#5a64e4"/>
</g>
</g>
<rect x="481" y="5" width="152.29999999999995" height="289.6" fill="none" stroke="#222" stroke-width="0.9"/>
<line x1="481.0" y1="294.6" x2="481.0" y2="292.40000000000003" stroke="#222" stroke-width="0.8"/>
<text x="482.0" y="307.4" font-size="12" text-anchor="middle" font-weight="normal" fill="#000" font-family='"Liberation Sans", sans-serif' >-20</text>
<line x1="519.0749999999999" y1="294.6" x2="519.0749999999999" y2="292.40000000000003" stroke="#222" stroke-width="0.8"/>
<text x="520.0749999999999" y="307.4" font-size="12" text-anchor="middle" font-weight="normal" fill="#000" font-family='"Liberation Sans", sans-serif' >-10</text>
<line x1="557.15" y1="294.6" x2="557.15" y2="292.40000000000003" stroke="#222" stroke-width="0.8"/>
<text x="558.15" y="307.4" font-size="12" text-anchor="middle" font-weight="normal" fill="#000" font-family='"Liberation Sans", sans-serif' >0</text>
<line x1="595.225" y1="294.6" x2="595.225" y2="292.40000000000003" stroke="#222" stroke-width="0.8"/>
<text x="596.225" y="307.4" font-size="12" text-anchor="middle" font-weight="normal" fill="#000" font-family='"Liberation Sans", sans-serif' >10</text>
<line x1="633.3" y1="294.6" x2="633.3" y2="292.40000000000003" stroke="#222" stroke-width="0.8"/>
<text x="634.3" y="307.4" font-size="12" text-anchor="middle" font-weight="normal" fill="#000" font-family='"Liberation Sans", sans-serif' >20</text>
<line x1="481" y1="261.0" x2="483.2" y2="261.0" stroke="#222" stroke-width="0.8"/>
<text x="477.5" y="265.1" font-size="11.5" text-anchor="end" font-weight="normal" fill="#000" font-family='"Liberation Sans", sans-serif' >0</text>
<line x1="481" y1="220.3" x2="483.2" y2="220.3" stroke="#222" stroke-width="0.8"/>
<text x="477.5" y="224.4" font-size="11.5" text-anchor="end" font-weight="normal" fill="#000" font-family='"Liberation Sans", sans-serif' >2</text>
<line x1="481" y1="179.6" x2="483.2" y2="179.6" stroke="#222" stroke-width="0.8"/>
<text x="477.5" y="183.7" font-size="11.5" text-anchor="end" font-weight="normal" fill="#000" font-family='"Liberation Sans", sans-serif' >4</text>
<line x1="481" y1="138.89999999999998" x2="483.2" y2="138.89999999999998" stroke="#222" stroke-width="0.8"/>
<text x="477.5" y="142.99999999999997" font-size="11.5" text-anchor="end" font-weight="normal" fill="#000" font-family='"Liberation Sans", sans-serif' >6</text>
<line x1="481" y1="98.19999999999999" x2="483.2" y2="98.19999999999999" stroke="#222" stroke-width="0.8"/>
<text x="477.5" y="102.29999999999998" font-size="11.5" text-anchor="end" font-weight="normal" fill="#000" font-family='"Liberation Sans", sans-serif' >8</text>
<line x1="481" y1="57.5" x2="483.2" y2="57.5" stroke="#222" stroke-width="0.8"/>
<text x="477.5" y="61.6" font-size="11.5" text-anchor="end" font-weight="normal" fill="#000" font-family='"Liberation Sans", sans-serif' >10</text>
<line x1="481" y1="16.799999999999983" x2="483.2" y2="16.799999999999983" stroke="#222" stroke-width="0.8"/>
<text x="477.5" y="20.899999999999984" font-size="11.5" text-anchor="end" font-weight="normal" fill="#000" font-family='"Liberation Sans", sans-serif' >12</text>
<text x="462.3" y="149.5" font-size="12.8" text-anchor="middle" font-weight="normal" fill="#111" font-family='"Liberation Sans", sans-serif' transform="rotate(-90 462.3 149.5)">scanner position (µm)</text>
<text x="560" y="323" text-anchor="middle" font-size="12.5" font-family='"Liberation Sans", sans-serif' fill="#111">V<tspan font-size="8.5" dy="3.2">g</tspan><tspan dy="-3.2">(V)</tspan></text>
<path d="M489.10,17.60 H497.10 M493.10,13.70 V21.50" stroke="#222" stroke-width="1.05"/>
<path d="M499.90,12.30 V23.80 M520.70,12.30 V23.80" stroke="#222" stroke-width="0.9"/>
<text x="502.10" y="21.20" font-size="12.2" font-family='"Liberation Serif", serif' fill="#111" >I</text>
<text x="505.80" y="23.90" font-size="8.7" font-family='"Liberation Serif", serif' fill="#111" >DC</text>
<text x="559.3" y="22.5" font-size="12" text-anchor="middle" font-weight="normal" fill="#111" font-family='"Liberation Sans", sans-serif' >source</text>
<text x="559.4" y="284.6" font-size="12" text-anchor="middle" font-weight="normal" fill="#111" font-family='"Liberation Sans", sans-serif' >drain</text>
<line x1="481" y1="82.6" x2="633" y2="82.6" stroke="#39b6ee" stroke-width="1.3" stroke-dasharray="4.3 2"/>
<line x1="481" y1="130.5" x2="633" y2="130.5" stroke="#9b30e0" stroke-width="1.3" stroke-dasharray="4.3 2"/>
<line x1="481" y1="179.7" x2="633" y2="179.7" stroke="#f06060" stroke-width="1.3" stroke-dasharray="4.3 2"/>
<text x="621" y="79.8" font-size="11.5" text-anchor="middle" font-weight="normal" fill="#111" font-family='"Liberation Sans", sans-serif' >3</text>
<text x="622" y="128" font-size="11.5" text-anchor="middle" font-weight="normal" fill="#111" font-family='"Liberation Sans", sans-serif' >2</text>
<text x="623" y="175.6" font-size="11.5" text-anchor="middle" font-weight="normal" fill="#111" font-family='"Liberation Sans", sans-serif' >1</text>
<rect x="639.4" y="36" width="8.2" height="239" fill="url(#cbar)" stroke="#333" stroke-width="0.6"/>
<text x="651.3" y="43.6" font-size="11.5" text-anchor="start" font-weight="normal" fill="#111" font-family='"Liberation Sans", sans-serif' >10</text>
<text x="650" y="157.9" font-size="11.5" text-anchor="start" font-weight="normal" fill="#111" font-family='"Liberation Sans", sans-serif' >0</text>
<text x="648.6" y="278.8" font-size="11.5" text-anchor="start" font-weight="normal" fill="#111" font-family='"Liberation Sans", sans-serif' >-10</text>
<text x="637.6" y="290.6" font-size="12.5" font-family='"Liberation Sans", sans-serif' fill="#111">PC<tspan font-size="8.5" dy="3.2">2</tspan><tspan dy="-3.2"> (nA)</tspan></text>
</svg>
</body></html>
